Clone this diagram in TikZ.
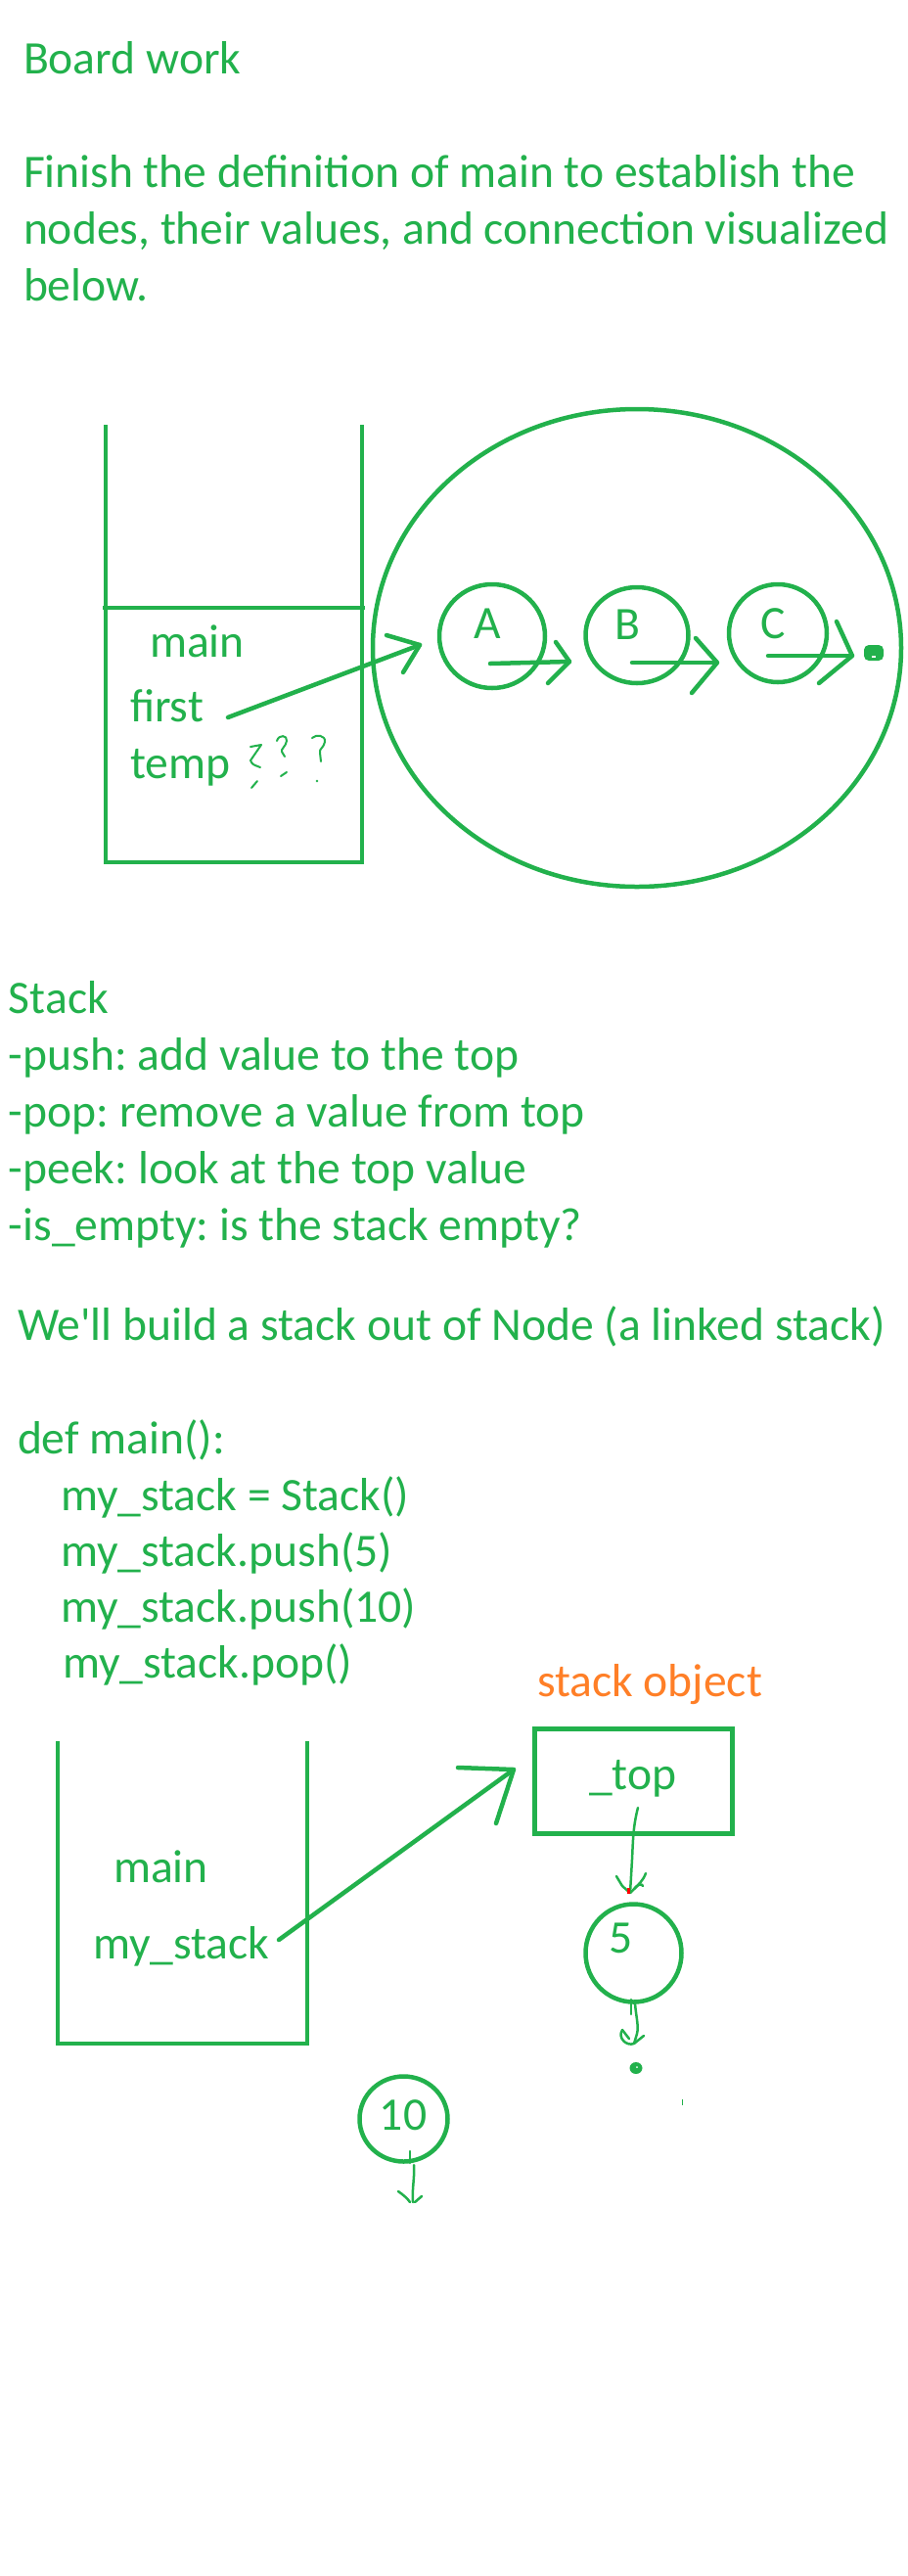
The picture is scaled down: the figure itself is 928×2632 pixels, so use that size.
\documentclass[tikz,border=0pt]{standalone}
\usepackage{fontspec}
\setmainfont{Carlito}
\usetikzlibrary{shapes.geometric}
\definecolor{pg}{RGB}{34,177,76}
\definecolor{po}{RGB}{255,127,39}
\frenchspacing
\begin{document}
\begin{tikzpicture}[x=1pt,y=-1pt,
  every node/.style={inner sep=0pt,outer sep=0pt},
  txt/.style={anchor=base west,text=pg,font=\fontsize{47.6}{58}\selectfont},
  lbl/.style={anchor=base,text=pg,font=\fontsize{47.6}{58}\selectfont},
  frm/.style={draw=pg,line width=4.5pt,line cap=butt,line join=miter},
  ringnode/.style={draw=pg,line width=4.5pt,ellipse},
  pen/.style={draw=pg,line width=4.5pt,line cap=round,line join=round},
  fine/.style={draw=pg,line width=2.5pt,line cap=round,line join=round}]
\fill[white] (0,0) rectangle (928,2632);
\useasboundingbox (0,0) rectangle (928,2632);

% ---------- header text ----------
\node[txt] (board) at (24,75) {Board work};
\node[txt] (fin1) at (24,191) {Finish the definition of main to establish the};
\node[txt] (fin2) at (24,249) {nodes, their values, and connection visualized};
\node[txt] (fin3) at (24,307) {below.};

% ---------- first frame ----------
\coordinate (f1tl) at (108,434);
\coordinate (f1tr) at (370,434);
\draw[frm] (f1tl) -- (108,881) -- (370,881) -- (f1tr);
\draw[frm] (105,621) -- (373,621);
\node[txt] (main1) at (153,671) {main};
\node[txt] (first) at (133,737) {first};
\node[txt] (temp) at (133,795) {temp};
% handwritten question marks
\draw[fine,line width=2pt] (256,763) -- (267,761) -- (256,777) .. controls (258,781) .. (266,784);
\draw[fine,line width=2pt] (263,798) -- (257,805);
\draw[fine,line width=2pt] (283,757) .. controls (285,750) and (294,751) .. (293,757) .. controls (292,763) and (287,765) .. (288,768) -- (291,773);
\draw[fine,line width=2pt] (287,793) -- (293,789);
\draw[fine,line width=2pt] (319,754) .. controls (323,750) and (333,751) .. (332,758) .. controls (331,764) and (326,765) .. (327,769) -- (328,778);
\fill[pg] (324,798) circle (1.3pt);

% ---------- heap ellipse and nodes ----------
\node[ringnode,minimum width=540pt,minimum height=488pt] (heap) at (651,662) {};
\node[ringnode,minimum width=108pt,minimum height=106pt] (A) at (503,650) {};
\node[ringnode,minimum width=105pt,minimum height=98pt] (B) at (651,649) {};
\node[ringnode,minimum width=100pt,minimum height=100pt] (C) at (795,647) {};
\node[lbl] (Alab) at (498,652) {A};
\node[lbl] (Blab) at (641,653) {B};
\node[lbl] (Clab) at (790,652) {C};
\fill[pg,rounded corners=5pt] (883,659) rectangle (903,675);
\fill[white] (891,670) rectangle (895,672);
\coordinate (nullC) at (883,667);

% first -> A
\coordinate (fA0) at (233,733);
\coordinate (fA1) at (429,659);
\draw[pen] (fA0) -- (fA1);
\draw[pen] (fA1) ++(-34,-10) -- (fA1) -- ++(-17,28);
% A -> B
\coordinate (ab0) at (501,678);
\coordinate (ab1) at (582,676);
\draw[pen] (ab0) -- (ab1);
\draw[pen] (ab1) ++(-14,-20) -- (ab1) -- ++(-22,22);
% B -> C
\coordinate (bc0) at (646,677);
\coordinate (bc1) at (733,677);
\draw[pen] (bc0) -- (bc1);
\draw[pen] (bc1) ++(-22,-25) -- (bc1) -- ++(-26,31);
% C -> null
\coordinate (cn0) at (785,670);
\coordinate (cn1) at (871,670);
\draw[pen] (cn0) -- (cn1);
\draw[pen] (cn1) ++(-16,-35) -- (cn1) -- ++(-34,28);

% ---------- stack text ----------
\node[txt] (stk) at (9,1035) {Stack};
\node[txt] (push) at (9,1093) {-push: add value to the top};
\node[txt] (pop) at (9,1151) {-pop: remove a value from top};
\node[txt] (peek) at (9,1209) {-peek: look at the top value};
\node[txt] (isem) at (9,1267) {-is\_empty: is the stack empty?};
\node[txt] (build) at (18,1369) {We\textquotesingle ll build a stack out of Node (a linked stack)};
\node[txt] (def) at (18,1485) {def main():};
\node[txt] (c1) at (62,1543) {my\_stack = Stack()};
\node[txt] (c2) at (62,1600) {my\_stack.push(5)};
\node[txt] (c3) at (62,1657) {my\_stack.push(10)};
\node[txt] (c4) at (64,1714) {my\_stack.pop()};

% ---------- second frame ----------
\coordinate (f2tl) at (59,1779);
\coordinate (f2tr) at (314,1779);
\draw[frm] (f2tl) -- (59,2088) -- (314,2088) -- (f2tr);
\node[txt] (main2) at (116,1923) {main};
\node[txt] (mys) at (95,2001) {my\_stack};

% stack object box
\node[anchor=base west,text=po,font=\fontsize{47.6}{58}\selectfont] (sobj) at (549,1733) {stack object};
\node[draw=pg,line width=5pt,minimum width=202pt,minimum height=107pt] (box) at (647.5,1820) {};
\node[txt] (toplab) at (602,1828) {\_top};

% my_stack -> box
\coordinate (ms0) at (285,1982);
\coordinate (ms1) at (525,1808);
\draw[pen] (ms0) -- (ms1);
\draw[pen] (ms1) ++(-57,-2) -- (ms1) -- ++(-18,55);

% node 5
\node[ringnode,minimum width=98pt,minimum height=100pt] (n5) at (647.5,1995.5) {};
\node[lbl] (n5lab) at (635,1995) {5};
% _top -> 5
\coordinate (t0) at (652,1847);
\coordinate (t1) at (644,1934);
\draw[fine] (t0) .. controls (647,1866) and (647,1880) .. (646,1900) -- (t1);
\draw[fine] (630,1917) -- (636,1927) -- (t1);
\draw[fine] (660,1914) .. controls (657,1922) and (652,1926) .. (648,1930) -- (t1);
\draw[fine] (648,1930) .. controls (652,1925) and (656,1924) .. (657,1927);
\fill[red] (641,1929) rectangle (644,1935);

% 5 -> null
\draw[fine] (645,2043) -- (645,2058);
\coordinate (f0) at (649,2047);
\coordinate (f1) at (648,2088);
\draw[fine] (f0) .. controls (650,2060) and (653,2070) .. (651,2078) -- (f1);
\draw[fine] (636,2074) .. controls (631,2082) and (640,2091) .. (f1);
\draw[fine] (636,2074) -- (643,2083);
\draw[fine] (658,2080) -- (f1);
\fill[pg] (650,2113) ellipse [x radius=6.5pt, y radius=6pt];
\fill[white] (651,2112) circle (1pt);
\draw[pg,line width=1pt] (697,2145) -- (697,2151);

% node 10
\node[ringnode,minimum width=90pt,minimum height=87pt] (n10) at (412.5,2165) {};
\node[lbl] (n10lab) at (412,2176) {10};
\draw[fine] (419,2198) -- (419,2210);
\coordinate (g0) at (423,2212);
\coordinate (g1) at (422,2250);
\draw[fine] (g0) .. controls (424,2225) and (421,2235) .. (g1);
\draw[fine] (407,2239) .. controls (413,2243) and (417,2247) .. (419,2250);
\draw[fine] (431,2244) -- (424,2250);
\end{tikzpicture}
\end{document}
